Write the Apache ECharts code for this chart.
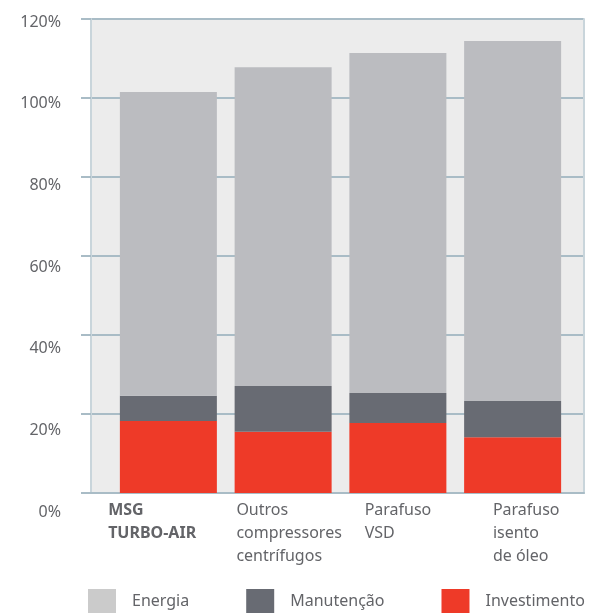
<!DOCTYPE html>
<html>
<head>
<meta charset="utf-8">
<script src="https://cdn.jsdelivr.net/npm/echarts@6/dist/echarts.min.js"></script>
<style>
  html, body { margin: 0; padding: 0; background: #fff; }
  #chart { width: 614px; height: 613px; }
</style>
</head>
<body>
<div id="chart"></div>
<script>
// categories and stacked values (% of reference cost)
const categories = ['MSG\nTURBO-AIR', 'Outros\ncompressores\ncentrífugos', 'Parafuso\nVSD', 'Parafuso\nisento\nde óleo']
const investimento = [18.2, 15.5, 17.7, 14.1]
const manutencao = [6.4, 11.6, 7.6, 9.2]
const energia = [76.9, 80.7, 86.1, 91.1]
const seriesNames = ['Energia', 'Manutenção', 'Investimento']
const yTicks = [0, 20, 40, 60, 80, 100, 120]

const gray = '#636468'
const gridLine = '#a9bcc6'
const frameLine = '#c9d5db'
const font = '"Noto Sans", "Open Sans", sans-serif'

const chart = echarts.init(document.getElementById('chart'))

chart.setOption({
  animation: false,
  textStyle: { fontFamily: font },
  grid: [
    // frame / background
    { left: 91, right: 30, top: 19, bottom: 120, show: true, backgroundColor: '#ececec', borderWidth: 0 },
    // bars
    { left: 111, right: 44, top: 19, bottom: 120 },
    // y labels
    { left: 91, right: 30, top: 22, bottom: 101 },
    // x labels
    { left: 44, right: 57, top: 19, bottom: 120 }
  ],
  xAxis: [
    { gridIndex: 0, type: 'category', data: categories,
      axisLine: { lineStyle: { color: gridLine, width: 2 } },
      axisTick: { show: false }, axisLabel: { show: false } },
    { gridIndex: 1, type: 'category', data: categories, show: false },
    { gridIndex: 2, type: 'category', data: categories, show: false },
    { gridIndex: 3, type: 'category', position: 'bottom',
      data: categories.map((c, i) => i === 0
        ? { value: c, textStyle: { fontWeight: 'bold', align: 'left' } }
        : c),
      axisLine: { show: false }, axisTick: { show: false },
      axisLabel: { align: 'left', margin: 6, color: gray, fontSize: 16, lineHeight: 23,
        fontFamily: font, interval: 0 } }
  ],
  yAxis: [
    { gridIndex: 0, type: 'value', min: 0, max: 120, interval: 20,
      axisLine: { show: true, lineStyle: { color: frameLine, width: 2 } },
      axisTick: { show: true, length: 10, lineStyle: { color: gridLine, width: 2 } },
      axisLabel: { show: false },
      splitLine: { show: true, lineStyle: { color: gridLine, width: 2 } } },
    { gridIndex: 0, type: 'value', position: 'right', min: 0, max: 120,
      axisLine: { show: true, lineStyle: { color: frameLine, width: 2 } },
      axisTick: { show: false }, axisLabel: { show: false }, splitLine: { show: false } },
    { gridIndex: 1, type: 'value', min: 0, max: 120, show: false, splitLine: { show: false } },
    { gridIndex: 2, type: 'value', min: yTicks[0], max: yTicks[yTicks.length - 1], interval: 20,
      axisLine: { show: false }, axisTick: { show: false }, splitLine: { show: false },
      axisLabel: { margin: 30, color: gray, fontSize: 16, fontFamily: font, formatter: '{value}%' } },
    { gridIndex: 3, type: 'value', min: 0, max: 120, show: false, splitLine: { show: false } }
  ],
  legend: {
    left: 88, top: 589, padding: 0,
    itemWidth: 28, itemHeight: 24, itemGap: 57,
    icon: 'rect',
    textStyle: { color: gray, fontSize: 16, fontFamily: font, padding: [0, 0, 0, 11] },
    data: [
      { name: seriesNames[0], itemStyle: { color: '#cbcbcb' } },
      { name: seriesNames[1], itemStyle: { color: '#686b73' } },
      { name: seriesNames[2], itemStyle: { color: '#ee3a28' } }
    ]
  },
  series: [
    { name: 'Investimento', type: 'bar', stack: 'total', xAxisIndex: 1, yAxisIndex: 2,
      barWidth: 97, itemStyle: { color: '#ee3a28' }, data: investimento },
    { name: 'Manutenção', type: 'bar', stack: 'total', xAxisIndex: 1, yAxisIndex: 2,
      barWidth: 97, itemStyle: { color: '#686b73' }, data: manutencao },
    { name: 'Energia', type: 'bar', stack: 'total', xAxisIndex: 1, yAxisIndex: 2,
      barWidth: 97, itemStyle: { color: '#bbbcc0' }, data: energia }
  ]
})
</script>
</body>
</html>
